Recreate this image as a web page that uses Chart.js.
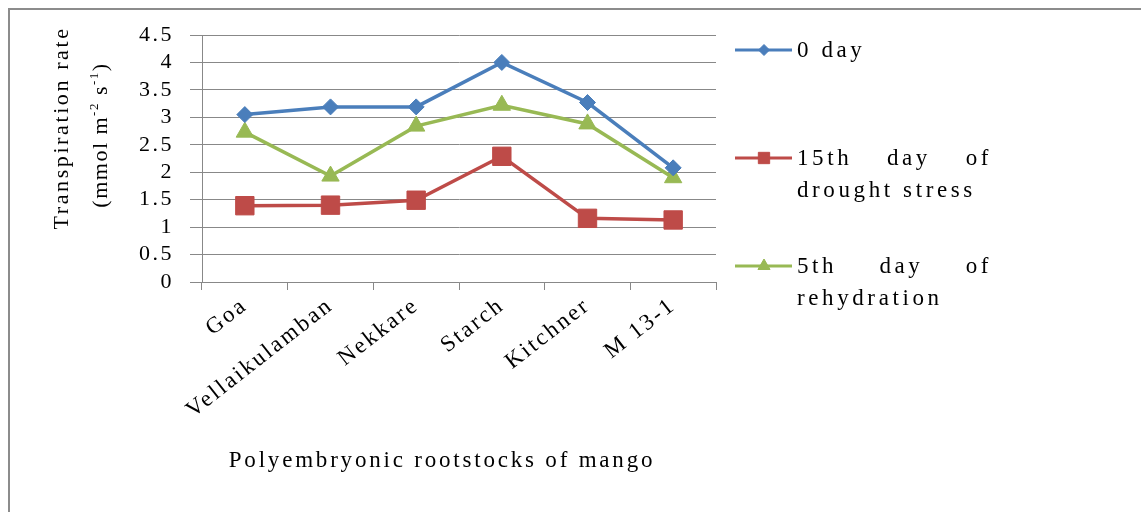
<!DOCTYPE html>
<html><head><meta charset="utf-8">
<script src="https://cdn.jsdelivr.net/npm/chart.js@4/dist/chart.umd.min.js"></script>
<style>html,body{margin:0;padding:0;background:#fff;}canvas{display:block;}</style>
</head><body><canvas id="c" width="1141" height="512"></canvas>
<script>
const categories = ['Goa', 'Vellaikulamban', 'Nekkare', 'Starch', 'Kitchner', 'M 13-1'];
const seriesNames = ['0 day', '15th day of drought stress', '5th day of rehydration'];
const legendLines = [['0 day'], ['15th day of', 'drought stress'], ['5th day of', 'rehydration']];
const day0 = [3.05, 3.19, 3.19, 4.0, 3.27, 2.08];
const day15Drought = [1.39, 1.40, 1.49, 2.29, 1.16, 1.13];
const day5Rehydration = [2.73, 1.93, 2.84, 3.22, 2.88, 1.90];
const yTicks = [0, 0.5, 1, 1.5, 2, 2.5, 3, 3.5, 4, 4.5];
const yTitle1 = 'Transpiration rate';
const yTitle2 = ['(mmol m', '-2', ' s', '-1', ')'];
const xTitle = 'Polyembryonic rootstocks of mango';

const FONT = '"Liberation Serif", serif';
const TICK_SPACING = '2.5px';
const colors = ['#4A7EBB', '#BE4B48', '#98B954'];
const styles = ['rectRot', 'rect', 'triangle'];
const radii = [8, 13, 10];
const legRadii = [5.5, 8, 7];
const GRID = '#888888';

const spacingPlugin = {
  id: 'spacing',
  beforeUpdate(c) { c.ctx.letterSpacing = TICK_SPACING; },
  beforeLayout(c) { c.ctx.letterSpacing = TICK_SPACING; },
  beforeDraw(c) {
    const ctx = c.ctx;
    ctx.letterSpacing = TICK_SPACING;
    ctx.save();
    ctx.fillStyle = '#fff';
    ctx.fillRect(0, 0, c.width, c.height);
    ctx.strokeStyle = '#8c8c8c';
    ctx.lineWidth = 2;
    ctx.beginPath();
    ctx.moveTo(8, 9); ctx.lineTo(c.width, 9);
    ctx.moveTo(9, 8); ctx.lineTo(9, c.height);
    ctx.stroke();
    ctx.restore();
  }
};

const decorPlugin = {
  id: 'decor',
  afterDraw(c) {
    const ctx = c.ctx;
    ctx.save();
    ctx.fillStyle = '#000';
    // x title
    ctx.letterSpacing = '2.8px';
    ctx.font = '23px ' + FONT;
    ctx.textAlign = 'center';
    ctx.textBaseline = 'middle';
    ctx.fillText(xTitle, 442, 461);
    // y title
    ctx.letterSpacing = '2.6px';
    ctx.save();
    ctx.translate(62, 128);
    ctx.rotate(-Math.PI / 2);
    ctx.font = '22px ' + FONT;
    ctx.fillText(yTitle1, 0, 0);
    ctx.restore();
    ctx.letterSpacing = '1.5px';
    ctx.save();
    ctx.translate(101, 135);
    ctx.rotate(-Math.PI / 2);
    ctx.textAlign = 'left';
    const big = '22px ' + FONT, small = '13px ' + FONT;
    let total = 0;
    yTitle2.forEach((t, i) => { ctx.font = (i % 2 ? small : big); total += ctx.measureText(t).width; });
    let x = -total / 2;
    yTitle2.forEach((t, i) => {
      ctx.font = (i % 2 ? small : big);
      ctx.fillText(t, x, i % 2 ? -6 : 0);
      x += ctx.measureText(t).width;
    });
    ctx.restore();
    // legend
    ctx.letterSpacing = '3.6px';
    const ys = [50, 158, 266];
    const textX = 797, justifyW = 195, lineGap = 32;
    c.data.datasets.forEach((ds, i) => {
      const y = ys[i];
      ctx.strokeStyle = colors[i];
      ctx.lineWidth = 3;
      ctx.beginPath(); ctx.moveTo(735, y); ctx.lineTo(792, y); ctx.stroke();
      ctx.fillStyle = colors[i];
      ctx.lineWidth = 1;
      Chart.helpers.drawPoint(ctx, {pointStyle: styles[i], radius: legRadii[i], rotation: 0, borderWidth: 1}, 764, y);
      ctx.fillStyle = '#000';
      ctx.font = '23px ' + FONT;
      ctx.textAlign = 'left';
      ctx.textBaseline = 'middle';
      const lines = legendLines[i];
      lines.forEach((ln, j) => {
        const ly = y + 1 + j * lineGap;
        if (lines.length > 1 && j < lines.length - 1) {
          const words = ln.split(' ');
          const ww = words.map(w => ctx.measureText(w).width);
          const sum = ww.reduce((a, b) => a + b, 0);
          const gap = (justifyW - sum) / (words.length - 1);
          let wx = textX;
          words.forEach((w, k) => { ctx.fillText(w, wx, ly); wx += ww[k] + gap; });
        } else {
          ctx.fillText(ln, textX, ly);
        }
      });
    });
    ctx.restore();
  }
};

const data = {
  labels: categories,
  datasets: [day0, day15Drought, day5Rehydration].map((vals, i) => ({
    label: seriesNames[i],
    data: vals,
    borderColor: colors[i],
    backgroundColor: colors[i],
    borderWidth: 3.5,
    pointStyle: styles[i],
    pointRadius: radii[i],
    pointBorderWidth: 1,
    pointBackgroundColor: colors[i],
    pointBorderColor: colors[i],
    tension: 0,
    fill: false
  }))
};

new Chart(document.getElementById('c'), {
  type: 'line',
  data,
  options: {
    responsive: false,
    animation: false,
    devicePixelRatio: 1,
    layout: {padding: {left: 0, top: 35, right: 1141 - 716, bottom: 0}},
    plugins: {legend: {display: false}, tooltip: {enabled: false}},
    scales: {
      x: {
        offset: true,
        grid: {display: true, drawOnChartArea: false, drawTicks: true, tickLength: 8, offset: true, color: GRID, lineWidth: 1},
        border: {display: true, color: GRID, width: 1},
        ticks: {font: {family: FONT, size: 23}, color: '#000', minRotation: 38, maxRotation: 38, padding: 2, autoSkip: false},
        afterFit(s) { s.height = 512 - 282; }
      },
      y: {
        min: 0, max: 4.5,
        afterBuildTicks(s) { s.ticks = yTicks.map(v => ({value: v})); },
        grid: {color: GRID, lineWidth: 1, tickLength: 12, drawTicks: true},
        border: {display: true, color: GRID, width: 1},
        ticks: {font: {family: FONT, size: 22}, color: '#000', padding: 16, autoSkip: false,
                callback: (v) => String(v)},
        afterFit(s) { s.width = 202; }
      }
    }
  },
  plugins: [spacingPlugin, decorPlugin]
});
</script>
</body></html>
